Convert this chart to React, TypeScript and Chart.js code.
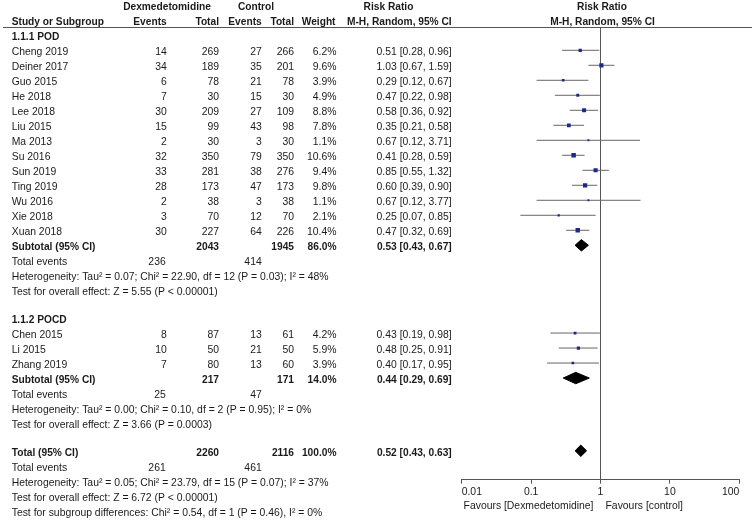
import { useEffect, useRef } from "react";
import { Chart, registerables } from "chart.js";

Chart.register(...registerables);

// ---------- data ----------
const studyNames = [
  "Cheng 2019", "Deiner 2017", "Guo 2015", "He 2018", "Lee 2018", "Liu 2015", "Ma 2013",
  "Su 2016", "Sun 2019", "Ting 2019", "Wu 2016", "Xie 2018", "Xuan 2018",
  "Chen 2015", "Li 2015", "Zhang 2019",
];
const studyGroup = [0, 0, 0, 0, 0, 0, 0, 0, 0, 0, 0, 0, 0, 1, 1, 1];
const dexEvents = [14, 34, 6, 7, 30, 15, 2, 32, 33, 28, 2, 3, 30, 8, 10, 7];
const dexTotals = [269, 189, 78, 30, 209, 99, 30, 350, 281, 173, 38, 70, 227, 87, 50, 80];
const ctlEvents = [27, 35, 21, 15, 27, 43, 3, 79, 38, 47, 3, 12, 64, 13, 21, 13];
const ctlTotals = [266, 201, 78, 30, 109, 98, 30, 350, 276, 173, 38, 70, 226, 61, 50, 60];
const weights = [6.2, 9.6, 3.9, 4.9, 8.8, 7.8, 1.1, 10.6, 9.4, 9.8, 1.1, 2.1, 10.4, 4.2, 5.9, 3.9];
const riskRatios = [0.51, 1.03, 0.29, 0.47, 0.58, 0.35, 0.67, 0.41, 0.85, 0.60, 0.67, 0.25, 0.47, 0.43, 0.48, 0.40];
const ciLower = [0.28, 0.67, 0.12, 0.22, 0.36, 0.21, 0.12, 0.28, 0.55, 0.39, 0.12, 0.07, 0.32, 0.19, 0.25, 0.17];
const ciUpper = [0.96, 1.59, 0.67, 0.98, 0.92, 0.58, 3.71, 0.59, 1.32, 0.90, 3.77, 0.85, 0.69, 0.98, 0.91, 0.95];

const groupLabels = ["1.1.1 POD", "1.1.2 POCD"];
const groupDexTotals = [2043, 217];
const groupCtlTotals = [1945, 171];
const groupWeights = [86.0, 14.0];
const groupRR = [0.53, 0.44];
const groupLower = [0.43, 0.29];
const groupUpper = [0.67, 0.69];
const groupDexEvents = [236, 25];
const groupCtlEvents = [414, 47];
const groupHeterogeneity = [
  "Heterogeneity: Tau² = 0.07; Chi² = 22.90, df = 12 (P = 0.03); I² = 48%",
  "Heterogeneity: Tau² = 0.00; Chi² = 0.10, df = 2 (P = 0.95); I² = 0%",
];
const groupEffect = [
  "Test for overall effect: Z = 5.55 (P < 0.00001)",
  "Test for overall effect: Z = 3.66 (P = 0.0003)",
];

const totalDexTotal = 2260;
const totalCtlTotal = 2116;
const totalWeight = 100.0;
const totalRR = 0.52;
const totalLower = 0.43;
const totalUpper = 0.63;
const totalDexEvents = 261;
const totalCtlEvents = 461;
const totalHeterogeneity = "Heterogeneity: Tau² = 0.05; Chi² = 23.79, df = 15 (P = 0.07); I² = 37%";
const totalEffect = "Test for overall effect: Z = 6.72 (P < 0.00001)";
const subgroupTest = "Test for subgroup differences: Chi² = 0.54, df = 1 (P = 0.46), I² = 0%";

const xTicks = [0.01, 0.1, 1, 10, 100];
const favourLeft = "Favours [Dexmedetomidine]";
const favourRight = "Favours [control]";

// ---------- styles / layout ----------
const FONT = "Arial, 'Liberation Sans', sans-serif";
const SIZE = 10.4;
const BOLD_SIZE = 10.2;
const TEXT = "#1a1a1a";
const LINE = "#555555";
const CI_LINE = "#666666";
const MARK = "#1b2a8a";
const COL = { name: 11.7, dexE: 166.7, dexN: 219, ctlE: 261.7, ctlN: 294, weight: 336.5, rr: 451.7 };
const BLANK = 0.85;
const DIAMOND_H = 0.38;

type Cell = { text: string; x: number; align: CanvasTextAlign; bold?: boolean };
type Row = { y: number; cells: Cell[] };

const fmtCI = (a: number, b: number, c: number) => `${a.toFixed(2)} [${b.toFixed(2)}, ${c.toFixed(2)}]`;

function buildLayout() {
  const rows: Row[] = [];
  const marks: { y: number; rr: number; lo: number; hi: number; w: number }[] = [];
  const diamonds: { y: number; rr: number; lo: number; hi: number }[] = [];

  rows.push({
    y: 0,
    cells: [
      { text: "Dexmedetomidine", x: 167, align: "center", bold: true },
      { text: "Control", x: 256, align: "center", bold: true },
      { text: "Risk Ratio", x: 388.5, align: "center", bold: true },
    ],
  });
  rows.push({
    y: 1,
    cells: [
      { text: "Study or Subgroup", x: COL.name, align: "left", bold: true },
      { text: "Events", x: COL.dexE, align: "right", bold: true },
      { text: "Total", x: COL.dexN, align: "right", bold: true },
      { text: "Events", x: COL.ctlE, align: "right", bold: true },
      { text: "Total", x: COL.ctlN, align: "right", bold: true },
      { text: "Weight", x: 335.5, align: "right", bold: true },
      { text: "M-H, Random, 95% CI", x: COL.rr, align: "right", bold: true },
    ],
  });

  let r = 2;
  groupLabels.forEach((label, g) => {
    rows.push({ y: r, cells: [{ text: label, x: COL.name, align: "left", bold: true }] });
    r++;
    studyNames.forEach((name, i) => {
      if (studyGroup[i] !== g) return;
      rows.push({
        y: r,
        cells: [
          { text: name, x: COL.name, align: "left" },
          { text: String(dexEvents[i]), x: COL.dexE, align: "right" },
          { text: String(dexTotals[i]), x: COL.dexN, align: "right" },
          { text: String(ctlEvents[i]), x: COL.ctlE, align: "right" },
          { text: String(ctlTotals[i]), x: COL.ctlN, align: "right" },
          { text: weights[i].toFixed(1) + "%", x: COL.weight, align: "right" },
          { text: fmtCI(riskRatios[i], ciLower[i], ciUpper[i]), x: COL.rr, align: "right" },
        ],
      });
      marks.push({ y: r, rr: riskRatios[i], lo: ciLower[i], hi: ciUpper[i], w: weights[i] });
      r++;
    });
    rows.push({
      y: r,
      cells: [
        { text: "Subtotal (95% CI)", x: COL.name, align: "left", bold: true },
        { text: String(groupDexTotals[g]), x: COL.dexN, align: "right", bold: true },
        { text: String(groupCtlTotals[g]), x: COL.ctlN, align: "right", bold: true },
        { text: groupWeights[g].toFixed(1) + "%", x: COL.weight, align: "right", bold: true },
        { text: fmtCI(groupRR[g], groupLower[g], groupUpper[g]), x: COL.rr, align: "right", bold: true },
      ],
    });
    diamonds.push({ y: r, rr: groupRR[g], lo: groupLower[g], hi: groupUpper[g] });
    r++;
    rows.push({
      y: r,
      cells: [
        { text: "Total events", x: COL.name, align: "left" },
        { text: String(groupDexEvents[g]), x: COL.dexE - 1, align: "right" },
        { text: String(groupCtlEvents[g]), x: COL.ctlE, align: "right" },
      ],
    });
    r++;
    rows.push({ y: r, cells: [{ text: groupHeterogeneity[g], x: COL.name, align: "left" }] });
    r++;
    rows.push({ y: r, cells: [{ text: groupEffect[g], x: COL.name, align: "left" }] });
    r++;
    r += BLANK;
  });

  rows.push({
    y: r,
    cells: [
      { text: "Total (95% CI)", x: COL.name, align: "left", bold: true },
      { text: String(totalDexTotal), x: COL.dexN, align: "right", bold: true },
      { text: String(totalCtlTotal), x: COL.ctlN, align: "right", bold: true },
      { text: totalWeight.toFixed(1) + "%", x: COL.weight, align: "right", bold: true },
      { text: fmtCI(totalRR, totalLower, totalUpper), x: COL.rr, align: "right", bold: true },
    ],
  });
  diamonds.push({ y: r, rr: totalRR, lo: totalLower, hi: totalUpper });
  r++;
  rows.push({
    y: r,
    cells: [
      { text: "Total events", x: COL.name, align: "left" },
      { text: String(totalDexEvents), x: COL.dexE - 1, align: "right" },
      { text: String(totalCtlEvents), x: COL.ctlE, align: "right" },
    ],
  });
  r++;
  rows.push({ y: r, cells: [{ text: totalHeterogeneity, x: COL.name, align: "left" }] });
  r++;
  rows.push({ y: r, cells: [{ text: totalEffect, x: COL.name, align: "left" }] });
  r++;
  rows.push({ y: r, cells: [{ text: subgroupTest, x: COL.name, align: "left" }] });

  return { rows, marks, diamonds };
}

export default function App() {
  const ref = useRef<HTMLCanvasElement | null>(null);

  useEffect(() => {
    const canvas = ref.current;
    if (!canvas) return;
    const { rows, marks, diamonds } = buildLayout();

    const datasets: any[] = [];
    datasets.push({
      label: "studies",
      data: marks.map((m) => ({ x: m.rr, y: m.y })),
      showLine: false,
      pointStyle: "rect",
      pointRadius: marks.map((m) => (1.6 + 0.27 * m.w) / 1.414),
      pointBackgroundColor: MARK,
      pointBorderWidth: 0,
      pointBorderColor: MARK,
      order: 0,
    });
    marks.forEach((m) => {
      datasets.push({
        data: [
          { x: m.lo, y: m.y },
          { x: m.hi, y: m.y },
        ],
        showLine: true,
        borderColor: CI_LINE,
        borderWidth: 1,
        pointRadius: 0,
        fill: false,
        order: 2,
      });
    });
    diamonds.forEach((d) => {
      datasets.push({
        data: [
          { x: d.lo, y: d.y },
          { x: d.rr, y: d.y - DIAMOND_H },
          { x: d.hi, y: d.y },
          { x: d.rr, y: d.y + DIAMOND_H },
          { x: d.lo, y: d.y },
        ],
        showLine: true,
        borderColor: "#000",
        backgroundColor: "#000",
        borderWidth: 1,
        pointRadius: 0,
        fill: "shape",
        tension: 0,
        order: 1,
      });
    });

    const tablePlugin = {
      id: "forestTable",
      afterDraw(chart: any) {
        const ctx = chart.ctx as CanvasRenderingContext2D;
        const ys = chart.scales.y;
        const xs = chart.scales.x;
        const area = chart.chartArea;
        ctx.save();
        ctx.fillStyle = TEXT;
        ctx.textBaseline = "middle";
        rows.forEach((row) => {
          const py = ys.getPixelForValue(row.y) + 2;
          row.cells.forEach((c) => {
            ctx.font = `${c.bold ? "bold " : ""}${c.bold ? BOLD_SIZE : SIZE}px ${FONT}`;
            ctx.textAlign = c.align;
            ctx.fillText(c.text, c.x, py);
          });
        });
        const x1 = xs.getPixelForValue(1);
        // right headers
        ctx.font = `bold ${BOLD_SIZE}px ${FONT}`;
        ctx.textAlign = "center";
        ctx.fillText("Risk Ratio", x1 + 1.5, ys.getPixelForValue(0) + 2);
        ctx.fillText("M-H, Random, 95% CI", x1 + 2, ys.getPixelForValue(1) + 2);
        // header rule
        ctx.strokeStyle = LINE;
        ctx.lineWidth = 1;
        ctx.beginPath();
        const ty = Math.round(area.top) + 0.5;
        ctx.moveTo(3, ty);
        ctx.lineTo(752, ty);
        ctx.stroke();
        // favours labels
        ctx.font = `${SIZE}px ${FONT}`;
        ctx.textAlign = "right";
        ctx.fillText(favourLeft, x1 - 7, 506);
        ctx.textAlign = "left";
        ctx.fillText(favourRight, x1 + 5, 506);
        ctx.restore();
      },
    };

    const chart = new Chart(canvas, {
      type: "line",
      data: { datasets },
      options: {
        animation: false,
        responsive: false,
        devicePixelRatio: 1,
        layout: { padding: { top: 27, left: 461.7, right: 12.7, bottom: 0 } },
        plugins: { legend: { display: false }, tooltip: { enabled: false }, title: { display: false } },
        scales: {
          x: {
            type: "logarithmic",
            min: 0.01,
            max: 100,
            afterBuildTicks: (axis: any) => {
              axis.ticks = xTicks.map((v) => ({ value: v }));
            },
            afterFit: (axis: any) => {
              axis.height = 41.3;
            },
            ticks: {
              autoSkip: false,
              maxRotation: 0,
              align: "inner",
              padding: 2,
              color: TEXT,
              font: { family: FONT, size: SIZE },
              callback: (v: any) => String(v),
            },
            grid: {
              drawOnChartArea: true,
              color: (c: any) => (c.tick && c.tick.value === 1 ? LINE : "rgba(0,0,0,0)"),
              tickColor: LINE,
              tickLength: 4,
              lineWidth: 1,
            },
            border: { display: true, color: LINE, width: 1 },
          },
          y: {
            type: "linear",
            reverse: true,
            min: 1.447,
            max: 31.627,
            display: false,
          },
        },
      } as any,
      plugins: [tablePlugin],
    });
    return () => chart.destroy();
  }, []);

  return (
    <div style={{ position: "fixed", left: 0, top: 0, width: 752, height: 521, background: "#fff" }}>
      <canvas ref={ref} width={752} height={521} style={{ display: "block", width: 752, height: 521 }} />
    </div>
  );
}
